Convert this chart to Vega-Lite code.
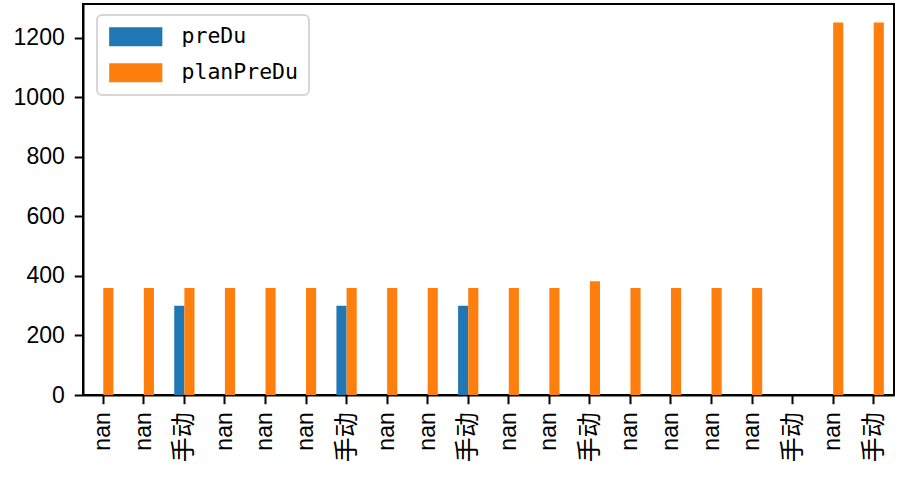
{
  "$schema": "https://vega.github.io/schema/vega-lite/v6.json",
  "width": 811,
  "height": 391,
  "autosize": {"type": "none"},
  "padding": {"left": 83, "top": 4, "right": 3, "bottom": 82},
  "background": "white",
  "data": {
    "values": [
      {"cat": "01|nan", "series": "planPreDu", "value": 360},
      {"cat": "02|nan", "series": "planPreDu", "value": 360},
      {"cat": "03|手动", "series": "preDu", "value": 300},
      {"cat": "03|手动", "series": "planPreDu", "value": 360},
      {"cat": "04|nan", "series": "planPreDu", "value": 360},
      {"cat": "05|nan", "series": "planPreDu", "value": 360},
      {"cat": "06|nan", "series": "planPreDu", "value": 360},
      {"cat": "07|手动", "series": "preDu", "value": 300},
      {"cat": "07|手动", "series": "planPreDu", "value": 360},
      {"cat": "08|nan", "series": "planPreDu", "value": 360},
      {"cat": "09|nan", "series": "planPreDu", "value": 360},
      {"cat": "10|手动", "series": "preDu", "value": 300},
      {"cat": "10|手动", "series": "planPreDu", "value": 360},
      {"cat": "11|nan", "series": "planPreDu", "value": 360},
      {"cat": "12|nan", "series": "planPreDu", "value": 360},
      {"cat": "13|手动", "series": "planPreDu", "value": 382},
      {"cat": "14|nan", "series": "planPreDu", "value": 360},
      {"cat": "15|nan", "series": "planPreDu", "value": 360},
      {"cat": "16|nan", "series": "planPreDu", "value": 360},
      {"cat": "17|nan", "series": "planPreDu", "value": 360},
      {"cat": "19|nan", "series": "planPreDu", "value": 1252},
      {"cat": "20|手动", "series": "planPreDu", "value": 1252}
    ]
  },
  "mark": {"type": "bar"},
  "encoding": {
    "x": {
      "field": "cat",
      "type": "nominal",
      "scale": {
        "domain": ["01|nan","02|nan","03|手动","04|nan","05|nan","06|nan","07|手动","08|nan","09|nan","10|手动","11|nan","12|nan","13|手动","14|nan","15|nan","16|nan","17|nan","18|手动","19|nan","20|手动"],
        "paddingInner": 0.5,
        "paddingOuter": 0.25
      },
      "axis": {
        "title": null,
        "labelExpr": "split(datum.value, '|')[1]",
        "labelAngle": -90,
        "labelPadding": 8,
        "labelFontSize": {"condition": {"test": "indexof(datum.value, '手动') >= 0", "value": 25}, "value": 23},
        "labelFont": "'Liberation Sans', 'Noto Sans CJK SC'",
        "labelColor": "black",
        "tickSize": 8.75,
        "tickWidth": 2,
        "tickColor": "black",
        "domainColor": "black",
        "domainWidth": 2,
        "labelOverlap": false
      }
    },
    "xOffset": {
      "field": "series",
      "type": "nominal",
      "scale": {"domain": ["preDu", "planPreDu"], "paddingInner": 0, "paddingOuter": 0}
    },
    "y": {
      "field": "value",
      "type": "quantitative",
      "scale": {"domain": [0, 1314], "nice": false},
      "axis": {
        "title": null,
        "values": [0, 200, 400, 600, 800, 1000, 1200],
        "format": "d",
        "grid": false,
        "labelFont": "'Liberation Sans', 'Noto Sans CJK SC'",
        "labelFontSize": 23,
        "labelColor": "black",
        "labelPadding": 10,
        "tickSize": 8.75,
        "tickWidth": 2,
        "tickColor": "black",
        "domainColor": "black",
        "domainWidth": 2
      }
    },
    "color": {
      "field": "series",
      "type": "nominal",
      "scale": {"domain": ["preDu", "planPreDu"], "range": ["#1f77b4", "#ff7f0e"]},
      "legend": {
        "title": null,
        "orient": "none",
        "legendX": 14,
        "legendY": 11,
        "symbolType": "M-2.8,-1H2.8V1H-2.8Z",
        "symbolSize": 361,
        "symbolStrokeWidth": 0,
        "symbolOpacity": 1,
        "symbolOffset": 17,
        "labelFont": "'DejaVu Sans Mono', 'Noto Sans CJK SC'",
        "labelFontSize": 21.5,
        "labelColor": "black",
        "labelOffset": 35,
        "rowPadding": 13,
        "padding": 11,
        "strokeColor": "#d6d6d6",
        "fillColor": "white",
        "cornerRadius": 5
      }
    }
  },
  "config": {
    "view": {"stroke": "black", "strokeWidth": 2},
    "legend": {"strokeWidth": 2}
  }
}
